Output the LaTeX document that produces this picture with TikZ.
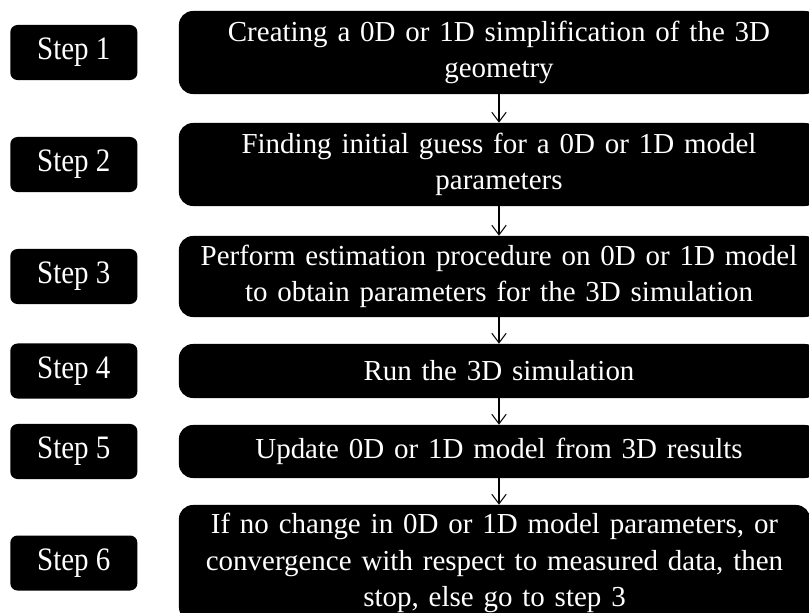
\documentclass[tikz,border=0pt]{standalone}
\usepackage{fontspec}
\setmainfont{Liberation Serif}
\usetikzlibrary{arrows.meta,positioning}
\newcommand{\tallstep}[1]{\scalebox{1}[1.13]{#1}}
\newcommand{\boxfont}{\fontsize{20.6}{25.8}\selectfont\spaceskip=0.34em plus 0.1em\relax}

\begin{document}
\begin{tikzpicture}[x=0.025cm, y=-0.025cm,
		mainbox/.style={fill=black, text=white, rounded corners=0.35cm, minimum width=16cm, align=center, inner sep=0pt, font=\boxfont},
		stepbox/.style={fill=black, text=white, rounded corners=0.18cm, minimum width=3.175cm, minimum height=1.375cm, inner sep=0pt, font=\fontsize{20.6}{25.6}\selectfont},
		flow/.style={line width=0.75pt, -{Straight Barb[length=2.4mm,width=3.6mm]}}]
			%%%%% START %%%%%
			
			\useasboundingbox (0, 0) rectangle (809, 612);
			
			\node[mainbox, minimum height=2.075cm] (b1) at (499, 52.5) {Creating a 0D or 1D simplification of the 3D\\geometry};
			\node[mainbox, minimum height=2.075cm] (b2) at (499, 164.5) {Finding initial guess for a 0D or 1D model\\parameters};
			\node[mainbox, minimum height=2.025cm] (b3) at (499, 276.5) {Perform estimation procedure on 0D or 1D model\\to obtain parameters for the 3D simulation};
			\node[mainbox, minimum height=1.35cm] (b4) at (499, 371) {Run the 3D simulation};
			\node[mainbox, minimum height=1.325cm] (b5) at (499, 451.5) {Update 0D or 1D model from 3D results};
			\node[mainbox, minimum height=2.9cm, minimum width=15.775cm] (b6) at (494.5, 563) {If no change in 0D or 1D model parameters, or\\convergence with respect to measured data, then\\stop, else go to step 3};
			
			\node[stepbox, left=1.025cm of b1.west, anchor=east] (s1) {\tallstep{Step 1}};
			\node[stepbox, left=1.025cm of b2.west, anchor=east] (s2) {\tallstep{Step 2}};
			\node[stepbox, left=1.025cm of b3.west, anchor=east] (s3) {\tallstep{Step 3}};
			\node[stepbox, left=1.025cm of b4.west, anchor=east] (s4) {\tallstep{Step 4}};
			\node[stepbox, left=1.025cm of b5.west, anchor=east] (s5) {\tallstep{Step 5}};
			\node[stepbox, left=1.025cm of b6.west, anchor=east] (s6) {\tallstep{Step 6}};
			
			\draw[flow] (b1) -- (b2);
			\draw[flow] (b2) -- (b3);
			\draw[flow] (b3) -- (b4);
			\draw[flow] (b4) -- (b5);
			\draw[flow] (b5.south) -- (b5.south |- b6.north);
			
			%%%%% END %%%%%
		\end{tikzpicture}
\end{document}
